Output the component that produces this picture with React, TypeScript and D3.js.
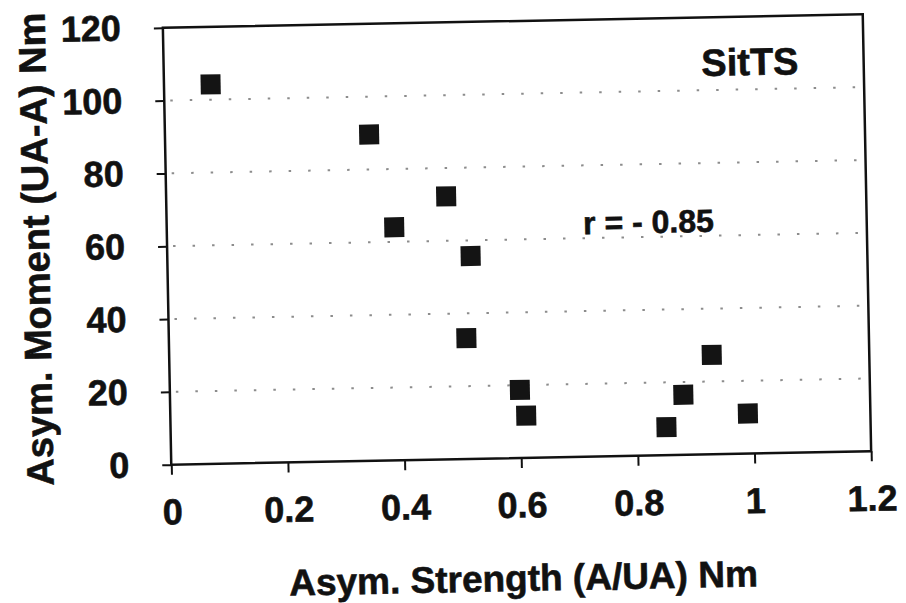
import { useEffect, useRef } from "react";
import * as d3 from "d3";

// values
const strength = [0.08, 0.35, 0.39, 0.48, 0.52, 0.51, 0.6, 0.61, 0.85, 0.88, 0.93, 0.99];
const moment = [104.2, 89.6, 64.0, 72.2, 55.7, 33.2, 18.7, 11.6, 7.7, 16.5, 27.3, 11.0];

const xTicks = [0, 0.2, 0.4, 0.6, 0.8, 1, 1.2];
const xTickLabels = ["0", "0.2", "0.4", "0.6", "0.8", "1", "1.2"];
const yTicks = [0, 20, 40, 60, 80, 100, 120];
const gridValues = [20, 40, 60, 80, 100];

const xTitle = "Asym. Strength (A/UA) Nm";
const yTitle = "Asym. Moment (UA-A) Nm";
const groupLabel = "SitTS";
const corrLabel = "r = - 0.85";

const FONT = "'Liberation Sans', Arial, sans-serif";
const INK = "#111";

const App = () => {
  const svgRef = useRef<SVGSVGElement>(null);

  useEffect(() => {
    const W = 906;
    const H = 603;
    const margin = { top: 21, left: 167 };
    const width = 700;
    const height = 437;

    d3.select(svgRef.current).selectAll("*").remove();

    const root = d3
      .select(svgRef.current)
      .attr("width", W)
      .attr("height", H)
      .append("g")
      // the scanned page sits slightly askew
      .attr("transform", `rotate(-1.1, ${margin.left + width / 2}, ${margin.top + height / 2})`);

    const svg = root.append("g").attr("transform", `translate(${margin.left},${margin.top})`);

    const x = d3.scaleLinear().domain([0, 1.2]).range([0, width]);
    const y = d3.scaleLinear().domain([0, 120]).range([height, 0]);

    // bold text helper, a thin stroke mimics the heavy print of the scan
    const boldText = (sel: any, size: number) =>
      sel
        .attr("font-family", FONT)
        .attr("font-weight", "bold")
        .attr("font-size", size)
        .attr("fill", INK)
        .attr("stroke", INK)
        .attr("stroke-width", 0.6);

    // dotted gridlines
    svg
      .selectAll(".grid")
      .data(gridValues)
      .enter()
      .append("line")
      .attr("x1", 6)
      .attr("x2", width)
      .attr("y1", (d) => y(d))
      .attr("y2", (d) => y(d))
      .attr("stroke", "#8c8c8c")
      .attr("stroke-width", 2)
      .attr("stroke-dasharray", "2.5,17");

    // frame
    svg
      .append("rect")
      .attr("x", 0)
      .attr("y", 0)
      .attr("width", width)
      .attr("height", height)
      .attr("fill", "none")
      .attr("stroke", INK)
      .attr("stroke-width", 2.5);

    // X axis
    const xAxis = svg
      .append("g")
      .attr("transform", `translate(0, ${height})`)
      .call(
        d3
          .axisBottom(x)
          .tickValues(xTicks)
          .tickFormat((_, i) => xTickLabels[i])
          .tickSizeInner(10)
          .tickSizeOuter(0)
          .tickPadding(24)
      );
    xAxis.select(".domain").remove();
    xAxis.selectAll("line").attr("stroke", INK).attr("stroke-width", 2);
    boldText(xAxis.selectAll("text"), 36);

    // Y axis
    const yAxis = svg.append("g").call(
      d3
        .axisLeft(y)
        .tickValues(yTicks)
        .tickSizeInner(9)
        .tickSizeOuter(0)
        .tickPadding(33)
    );
    yAxis.select(".domain").remove();
    yAxis.selectAll("line").attr("stroke", INK).attr("stroke-width", 2);
    boldText(yAxis.selectAll("text"), 36);

    // points
    const size = 20;
    svg
      .selectAll(".pt")
      .data(strength.map((s, i) => [s, moment[i]]))
      .enter()
      .append("rect")
      .attr("class", "pt")
      .attr("x", ([s]) => x(s) - size / 2)
      .attr("y", ([, m]) => y(m) - size / 2)
      .attr("width", size)
      .attr("height", size)
      .attr("fill", "#141414");

    // annotations
    boldText(
      svg.append("text").attr("x", x(1.005)).attr("y", y(103.9)).attr("text-anchor", "middle"),
      38
    ).text(groupLabel);

    boldText(
      svg.append("text").attr("x", x(0.826)).attr("y", y(61.1)).attr("text-anchor", "middle"),
      32
    ).text(corrLabel);

    // axis titles
    boldText(
      root.append("text").attr("x", margin.left + width / 2).attr("y", 591).attr("text-anchor", "middle"),
      37
    ).text(xTitle);

    boldText(
      root
        .append("text")
        .attr("transform", `translate(49, 240) rotate(-90)`)
        .attr("text-anchor", "middle"),
      38
    ).text(yTitle);
  }, []);

  return (
    <svg
      ref={svgRef}
      style={{ position: "absolute", left: 0, top: 0, background: "#fff" }}
    ></svg>
  );
};

export default App;
